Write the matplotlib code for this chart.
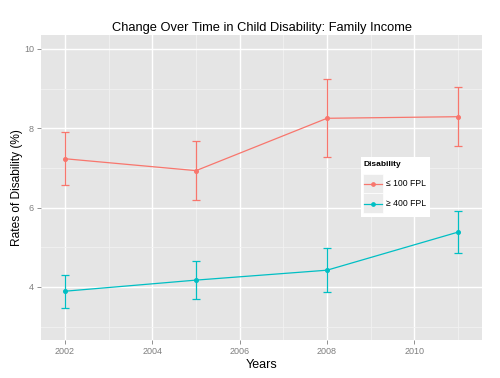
import matplotlib
matplotlib.use("Agg")
import matplotlib.pyplot as plt
from matplotlib.patches import Rectangle
from matplotlib.lines import Line2D

plt.rcParams['font.family'] = ['Liberation Sans', 'DejaVu Sans']

years = [2002, 2005, 2008, 2011]
low_income = [7.23, 6.93, 8.25, 8.29]
low_income_lo = [6.58, 6.19, 7.27, 7.56]
low_income_hi = [7.90, 7.67, 9.23, 9.05]
high_income = [3.89, 4.17, 4.42, 5.38]
high_income_lo = [3.47, 3.69, 3.86, 4.86]
high_income_hi = [4.31, 4.65, 4.98, 5.91]
series_labels = ["≤ 100 FPL", "≥ 400 FPL"]
legend_title = "Disability"
x_ticks = [2002, 2004, 2006, 2008, 2010]
y_ticks = [4, 6, 8, 10]

RED = "#F8766D"
TEAL = "#00BFC4"

W, H = 500, 378
fig = plt.figure(figsize=(5.0, 3.78), dpi=100)
fig.patch.set_facecolor("white")

def fx(px):
    return px / W

def fy(py):
    return 1 - py / H

ax = fig.add_axes([fx(41), fy(340), fx(482) - fx(41), fy(35) - fy(340)])
ax.set_facecolor("#E5E5E5")
for s in ax.spines.values():
    s.set_visible(False)

ax.set_xlim(2001.45, 2011.55)
ax.set_ylim(2.66, 10.35)
ax.set_xticks(x_ticks)
ax.set_yticks(y_ticks)
ax.set_xticks([2003, 2005, 2007, 2009, 2011], minor=True)
ax.set_yticks([3, 5, 7, 9], minor=True)
ax.grid(which="major", color="white", linewidth=1.0)
ax.grid(which="minor", color="#F2F2F2", linewidth=0.6)
ax.set_axisbelow(True)
ax.tick_params(which="major", length=3, width=0.6, color="#7F7F7F",
               labelsize=6.5, labelcolor="#7F7F7F", pad=2)
ax.tick_params(which="minor", length=0)

def draw(y, lo, hi, color):
    ax.plot(years, y, color=color, linewidth=0.9, zorder=3)
    yerr = [[v - l for v, l in zip(y, lo)], [h - v for v, h in zip(y, hi)]]
    ax.errorbar(years, y, yerr=yerr, fmt="o", color=color, markersize=2.6,
                elinewidth=0.9, capsize=3.2, capthick=0.9, zorder=4)

draw(low_income, low_income_lo, low_income_hi, RED)
draw(high_income, high_income_lo, high_income_hi, TEAL)

ax.set_title("Change Over Time in Child Disability: Family Income",
             fontsize=9.3, pad=3)
ax.set_xlabel("Years", fontsize=9, labelpad=2)
ax.set_ylabel("Rates of Disability (%)", fontsize=8.6, labelpad=0.5)

# manual legend (ggplot-style)
fig.add_artist(Rectangle((fx(361), fy(217)), fx(430) - fx(361), fy(157) - fy(217),
                         transform=fig.transFigure, facecolor="white",
                         edgecolor="none", zorder=5))
fig.text(fx(363), fy(165), legend_title, fontsize=6.0, fontweight="bold",
         va="center", ha="left", zorder=6)
for i, (lab, col) in enumerate(zip(series_labels, [RED, TEAL])):
    yc = 183.5 + 20 * i
    fig.add_artist(Rectangle((fx(363), fy(yc + 10)), fx(383) - fx(363), fy(yc - 10) - fy(yc + 10),
                             transform=fig.transFigure, facecolor="#EBEBEB",
                             edgecolor="white", linewidth=0.5, zorder=6))
    fig.add_artist(Line2D([fx(364), fx(382)], [fy(yc), fy(yc)], transform=fig.transFigure,
                          color=col, linewidth=0.9, zorder=7))
    fig.add_artist(Line2D([fx(373)], [fy(yc)], transform=fig.transFigure,
                          color=col, marker="o", markersize=2.4, linestyle="none",
                          zorder=8))
    fig.text(fx(386), fy(yc), lab, fontsize=6.2, va="center", ha="left", zorder=7)

fig.savefig("out.png", dpi=100)
